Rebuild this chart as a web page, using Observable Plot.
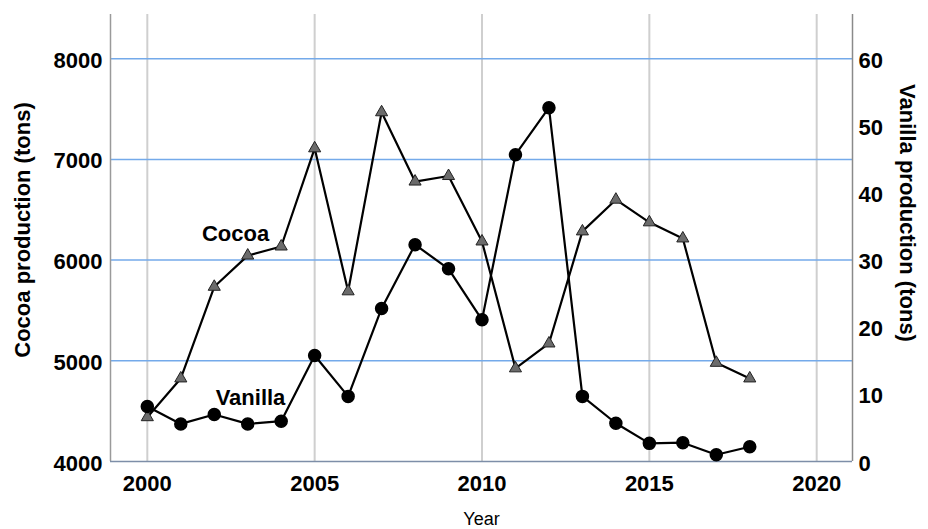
<!DOCTYPE html>
<html>
<head>
<meta charset="utf-8">
<script src="https://cdn.jsdelivr.net/npm/d3@7"></script>
<script src="https://cdn.jsdelivr.net/npm/@observablehq/plot@0.6"></script>
<style>
  html, body { margin: 0; padding: 0; background: #fff; }
  #chart svg { display: block; }
</style>
</head>
<body>
<div id="chart"></div>
<script>
const years = [2000,2001,2002,2003,2004,2005,2006,2007,2008,2009,2010,2011,2012,2013,2014,2015,2016,2017,2018];
const cocoa = [4440,4825,5735,6045,6135,7110,5690,7468,6780,6835,6185,4925,5172,6285,6600,6375,6215,4980,4825];
const vanilla = [8.2,5.6,7.0,5.6,6.0,15.8,9.7,22.8,32.3,28.7,21.1,45.7,52.7,9.7,5.7,2.7,2.8,1.0,2.2];
const xTicks = [2000,2005,2010,2015,2020];
const cocoaTicks = [4000,5000,6000,7000,8000];
const vanillaTicks = [0,10,20,30,40,50,60];
const xDomain = [1998.9, 2021.07];
const cocoaDomain = [4000, 8439];

// vanilla axis maps onto the cocoa axis: 0 t <-> 4000 t, 60 t <-> 8000 t
const toCocoa = v => 4000 + v * 4000 / 60;
const fromCocoa = c => (c - 4000) * 60 / 4000;

const cocoaData = years.map((y, i) => ({year: y, value: cocoa[i]}));
const vanillaData = years.map((y, i) => ({year: y, value: toCocoa(vanilla[i])}));

const font = "'Liberation Sans', Arial, sans-serif";

const chart = Plot.plot({
  width: 928,
  height: 529,
  marginLeft: 110,
  marginRight: 76,
  marginTop: 14,
  marginBottom: 68,
  style: {fontFamily: font, background: "#fff", color: "#000"},
  x: {domain: xDomain},
  y: {domain: cocoaDomain},
  marks: [
    Plot.ruleX(xTicks, {stroke: "#cfcfcf", strokeWidth: 2}),
    Plot.ruleY(cocoaTicks.slice(1), {stroke: "#74aaea", strokeWidth: 1.5}),
    Plot.ruleX([xDomain[0]], {stroke: "#9a9a9a", strokeWidth: 1.5}),
    Plot.ruleX([xDomain[1]], {stroke: "#8a8a8a", strokeWidth: 1.5}),
    Plot.ruleY([cocoaDomain[0]], {stroke: "#7d8ea8", strokeWidth: 1.5}),
    Plot.axisX({ticks: xTicks, tickFormat: "d", tickSize: 0, tickPadding: 14, label: null,
      fontSize: 22, fontWeight: "bold"}),
    Plot.axisY({anchor: "left", ticks: cocoaTicks, tickFormat: "d", tickSize: 0, tickPadding: 8, label: null,
      fontSize: 22, fontWeight: "bold", dy: 2}),
    Plot.axisY({anchor: "right", ticks: vanillaTicks.map(toCocoa), tickFormat: d => String(Math.round(fromCocoa(d))),
      tickSize: 0, tickPadding: 6, label: null, fontSize: 22, fontWeight: "bold", dy: 2}),
    Plot.line(cocoaData, {x: "year", y: "value", stroke: "#000", strokeWidth: 2.2}),
    Plot.line(vanillaData, {x: "year", y: "value", stroke: "#000", strokeWidth: 2.2}),
    Plot.dot(cocoaData, {x: "year", y: "value", symbol: "triangle", r: 4.5, fill: "#6b6b6b", stroke: "#222", strokeWidth: 1}),
    Plot.dot(vanillaData, {x: "year", y: "value", r: 6, fill: "#000", stroke: "#000"}),
    Plot.text(["Cocoa"], {frameAnchor: "top-left", textAnchor: "middle", dx: 125, dy: 211,
      fontSize: 22, fontWeight: "bold", fill: "#000"}),
    Plot.text(["Vanilla"], {frameAnchor: "top-left", textAnchor: "middle", dx: 140, dy: 375,
      fontSize: 22, fontWeight: "bold", fill: "#000"}),
    Plot.text(["Cocoa production (tons)"], {frameAnchor: "left", textAnchor: "middle", rotate: -90, dx: -88, dy: -8,
      fontSize: 22, fontWeight: "bold", fill: "#000"}),
    Plot.text(["Vanilla production (tons)"], {frameAnchor: "right", textAnchor: "middle", rotate: 90, dx: 55, dy: -25,
      fontSize: 22, fontWeight: "bold", fill: "#000"}),
    Plot.text(["Year"], {frameAnchor: "bottom", dy: 63, fontSize: 18, fill: "#000"})
  ]
});
document.getElementById("chart").appendChild(chart);
</script>
</body>
</html>
